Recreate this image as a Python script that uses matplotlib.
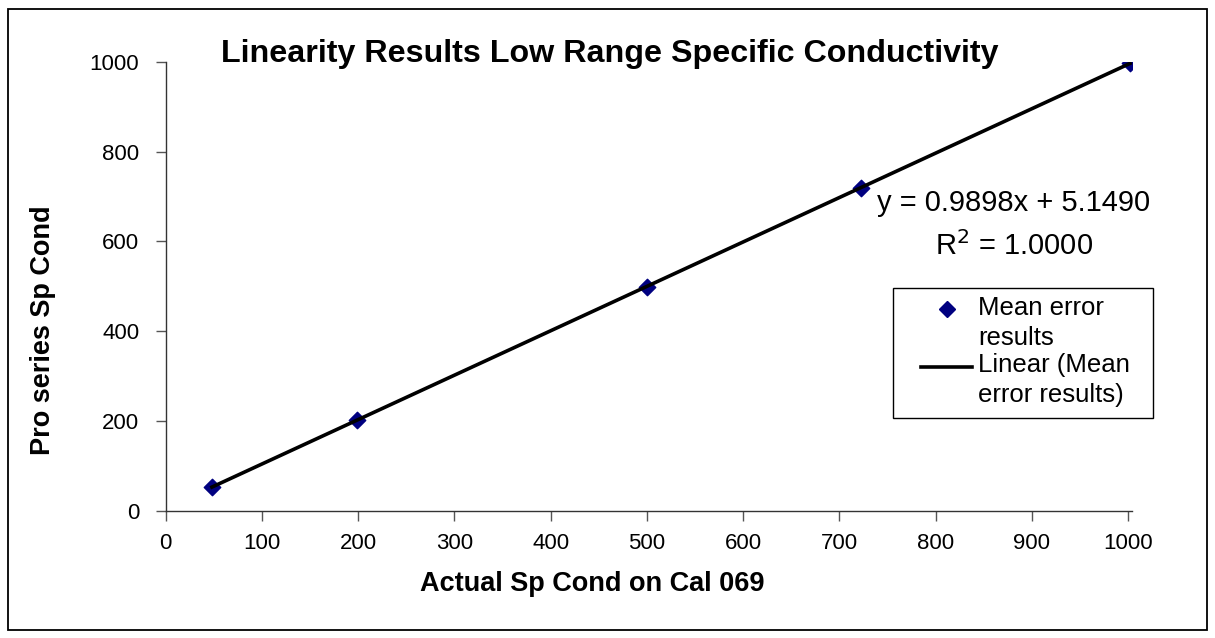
import numpy as np
import matplotlib
matplotlib.use("Agg")
import matplotlib.pyplot as plt
from matplotlib.patches import Rectangle
from matplotlib.lines import Line2D

plt.rcParams["font.family"] = ["Liberation Sans", "DejaVu Sans"]

# data
actual = [48, 199, 500, 722, 1002]
measured = [53, 203, 499, 720, 997]
slope = 0.9898
intercept = 5.1490
r_squared = 1.0000

x_ticks = [0, 100, 200, 300, 400, 500, 600, 700, 800, 900, 1000]
y_ticks = [0, 200, 400, 600, 800, 1000]

W, H = 1215, 638
fig = plt.figure(figsize=(W / 100, H / 100), dpi=100)
ax = fig.add_axes([0.1364, 0.1995, 0.7953, 0.7033])

def fx(px):
    return px / W

def fy(py):
    return 1 - py / H

# outer chart frame
fig.patches.append(Rectangle((0.0066, 0.0125), 0.9868, 0.973, transform=fig.transFigure,
                             fill=False, edgecolor="black", linewidth=1.3))

ax.scatter(actual, measured, marker="D", s=70, color="#000080", zorder=2)
fit_x = np.array([min(actual), max(actual)])
ax.plot(fit_x, slope * fit_x + intercept, color="black", linewidth=2.6, zorder=3)

ax.set_xlim(0, 1004)
ax.set_ylim(0, 1000)
ax.set_xticks(x_ticks)
ax.set_yticks(y_ticks)
ax.tick_params(direction="out", length=7, width=1, labelsize=16, colors="#555555",
               labelcolor="black")
ax.tick_params(axis="x", pad=9)
ax.tick_params(axis="y", pad=12)
ax.spines["top"].set_visible(False)
ax.spines["right"].set_visible(False)
for s in ["left", "bottom"]:
    ax.spines[s].set_color("#333333")
    ax.spines[s].set_linewidth(1)

fig.text(fx(592), fy(584), "Actual Sp Cond on Cal 069", ha="center", va="center",
         fontsize=19.5, fontweight="bold")
fig.text(fx(43), fy(330), "Pro series Sp Cond", ha="center", va="center",
         rotation=90, fontsize=19.5, fontweight="bold")

fig.text(fx(610), fy(54), "Linearity Results Low Range Specific Conductivity",
         ha="center", va="center", fontsize=23.2, fontweight="bold")

fig.text(fx(1014), fy(203), "y = %.4fx + %.4f" % (slope, intercept),
         ha="center", va="center", fontsize=21)
fig.text(fx(1014), fy(246), "R$^2$ = %.4f" % r_squared,
         ha="center", va="center", fontsize=21)

# legend box drawn by hand to match the original layout
fig.patches.append(Rectangle((fx(893), fy(418)), fx(1153) - fx(893), fy(288) - fy(418),
                             transform=fig.transFigure, fill=False,
                             edgecolor="black", linewidth=1))
fig.add_artist(Line2D([fx(947)], [fy(309)], marker="D", markersize=8, color="#000080",
                      linestyle="none", transform=fig.transFigure))
fig.add_artist(Line2D([fx(921), fx(972)], [fy(367), fy(367)], color="black",
                      linewidth=2.6, transform=fig.transFigure))
fig.text(fx(978), fy(323), "Mean error\nresults", ha="left", va="center",
         fontsize=18.5, linespacing=1.3)
fig.text(fx(978), fy(380), "Linear (Mean\nerror results)", ha="left", va="center",
         fontsize=18.5, linespacing=1.3)

fig.savefig("out.png", dpi=100)
